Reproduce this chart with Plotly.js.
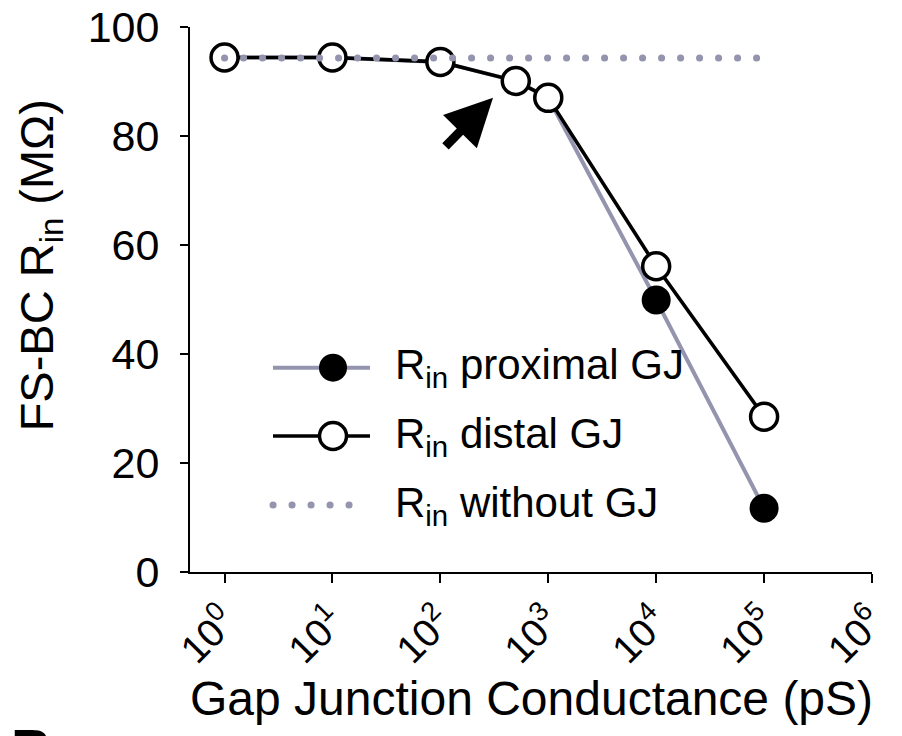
<!DOCTYPE html>
<html>
<head>
<meta charset="utf-8">
<script src="https://cdn.plot.ly/plotly-3.0.1.min.js"></script>
<style>
  html, body { margin: 0; padding: 0; background: #ffffff; }
  #chart { width: 902px; height: 736px; }
</style>
</head>
<body>
<div id="chart"></div>
<script>
// Gap junction conductance (pS), log scale
const conductance = [1, 10, 100, 500, 1000, 10000, 100000];
// Input resistance of the FS-BC (MΩ)
const rinProximal = [94.4, 94.4, 93.6, 90.1, 87.0, 49.9, 11.7];
const rinDistal   = [94.4, 94.4, 93.6, 90.1, 87.0, 56.1, 28.5];
const rinWithout  = [94.3, 94.3, 94.3, 94.3, 94.3, 94.3, 94.3];

const xTickVals = [1, 10, 100, 1000, 10000, 100000, 1000000];
const xTickText = ['10<sup>0</sup>', '10<sup>1</sup>', '10<sup>2</sup>', '10<sup>3</sup>',
                   '10<sup>4</sup>', '10<sup>5</sup>', '10<sup>6</sup>'];
const yTickVals = [0, 20, 40, 60, 80, 100];

const legendLabels = ['R<sub>in</sub> proximal GJ', 'R<sub>in</sub> distal GJ', 'R<sub>in</sub> without GJ'];

const FONT = 'Liberation Sans, Arial, Helvetica, sans-serif';
const GREY = '#9494ae';
const DOTS = '0.1px,18.9px';

const traces = [
  {
    x: conductance, y: rinProximal, type: 'scatter', mode: 'lines+markers',
    line: { color: GREY, width: 4 },
    marker: { color: '#000000', size: 29, line: { width: 0 } },
    showlegend: false, hoverinfo: 'skip'
  },
  {
    x: conductance, y: rinDistal, type: 'scatter', mode: 'lines+markers',
    line: { color: '#000000', width: 3.6 },
    marker: { color: '#ffffff', size: 27, line: { color: '#000000', width: 3.5 } },
    showlegend: false, hoverinfo: 'skip'
  },
  {
    x: conductance, y: rinWithout, type: 'scatter', mode: 'lines',
    line: { color: GREY, width: 7, dash: DOTS },
    showlegend: false, hoverinfo: 'skip'
  }
];

// hand-built legend: long sample lines with the marker in the middle
const legRowsY = [0.3749, 0.2495, 0.1229];
const legX0 = 0.1217, legX1 = 0.2639, legMid = 0.2097, legTextX = 0.297;

const shapes = [
  { type: 'line', xref: 'paper', yref: 'paper', x0: legX0, x1: legX1, y0: legRowsY[0], y1: legRowsY[0],
    line: { color: GREY, width: 4 } },
  { type: 'circle', xref: 'paper', yref: 'paper', xsizemode: 'pixel', ysizemode: 'pixel',
    xanchor: legMid, yanchor: legRowsY[0], x0: -14, x1: 14, y0: -14, y1: 14,
    fillcolor: '#000000', line: { width: 0 } },
  { type: 'line', xref: 'paper', yref: 'paper', x0: legX0, x1: legX1, y0: legRowsY[1], y1: legRowsY[1],
    line: { color: '#000000', width: 3.6 } },
  { type: 'circle', xref: 'paper', yref: 'paper', xsizemode: 'pixel', ysizemode: 'pixel',
    xanchor: legMid, yanchor: legRowsY[1], x0: -13.5, x1: 13.5, y0: -13.5, y1: 13.5,
    fillcolor: '#ffffff', line: { color: '#000000', width: 3.5 } },
  { type: 'line', xref: 'paper', yref: 'paper', x0: legX0, x1: legX1 - 0.03, y0: legRowsY[2], y1: legRowsY[2],
    line: { color: GREY, width: 7, dash: DOTS } }
];

const annotations = legendLabels.map((t, i) => ({
  xref: 'paper', yref: 'paper', x: legTextX, y: legRowsY[i], xanchor: 'left', yanchor: 'middle',
  text: t, showarrow: false, font: { family: FONT, size: 42, color: '#000000' }
}));

// axis titles
annotations.push({
  xref: 'paper', yref: 'paper', x: 0.5, y: -0.232, xanchor: 'center', yanchor: 'middle',
  text: 'Gap Junction Conductance (pS)', showarrow: false,
  font: { family: FONT, size: 48, color: '#000000' }
});
annotations.push({
  xref: 'paper', yref: 'paper', x: -0.2194, y: 0.5633, xanchor: 'center', yanchor: 'middle',
  textangle: -90, text: 'FS-BC R<sub>in</sub> (MΩ)', showarrow: false,
  font: { family: FONT, size: 47, color: '#000000' }
});

// arrow marking the onset of the drop
annotations.push({
  xref: 'x', yref: 'y', x: 2.488, y: 87.0, text: '', showarrow: true,
  ax: -49, ay: 50, arrowhead: 2, arrowsize: 1.05, arrowwidth: 9, arrowcolor: '#000000',
  standoff: 0
});

// panel letter at the bottom edge
annotations.push({
  xref: 'paper', yref: 'paper', x: -0.266, y: -0.262, xanchor: 'left', yanchor: 'top',
  text: '<b>B</b>', showarrow: false, font: { family: FONT, size: 56, color: '#000000' }
});

const layout = {
  width: 902, height: 736,
  margin: { l: 190, r: 30, t: 27, b: 164 },
  paper_bgcolor: '#ffffff', plot_bgcolor: '#ffffff',
  font: { family: FONT, color: '#000000' },
  xaxis: {
    type: 'log', range: [-0.32, 6.0],
    tickvals: xTickVals, ticktext: xTickText, tickangle: -45,
    tickfont: { family: FONT, size: 39, color: '#000000' },
    ticks: 'outside', ticklen: 9, tickwidth: 2, tickcolor: '#000000',
    showline: true, linecolor: '#000000', linewidth: 2,
    showgrid: false, zeroline: false, fixedrange: true
  },
  yaxis: {
    range: [0, 100], tickvals: yTickVals,
    tickfont: { family: FONT, size: 43, color: '#000000' },
    ticks: 'outside', ticklen: 8, tickwidth: 2, tickcolor: '#000000',
    ticklabelstandoff: 12,
    showline: true, linecolor: '#000000', linewidth: 2,
    showgrid: false, zeroline: false, fixedrange: true
  },
  shapes: shapes,
  annotations: annotations,
  showlegend: false
};

Plotly.newPlot('chart', traces, layout, { staticPlot: true }).then(gd => {
  // round caps turn the tiny dashes into dots
  gd.querySelectorAll('path').forEach(p => {
    const da = p.style.strokeDasharray || p.getAttribute('stroke-dasharray') || '';
    if (da.indexOf('0.1') !== -1) p.style.strokeLinecap = 'round';
  });
});
</script>
</body>
</html>
